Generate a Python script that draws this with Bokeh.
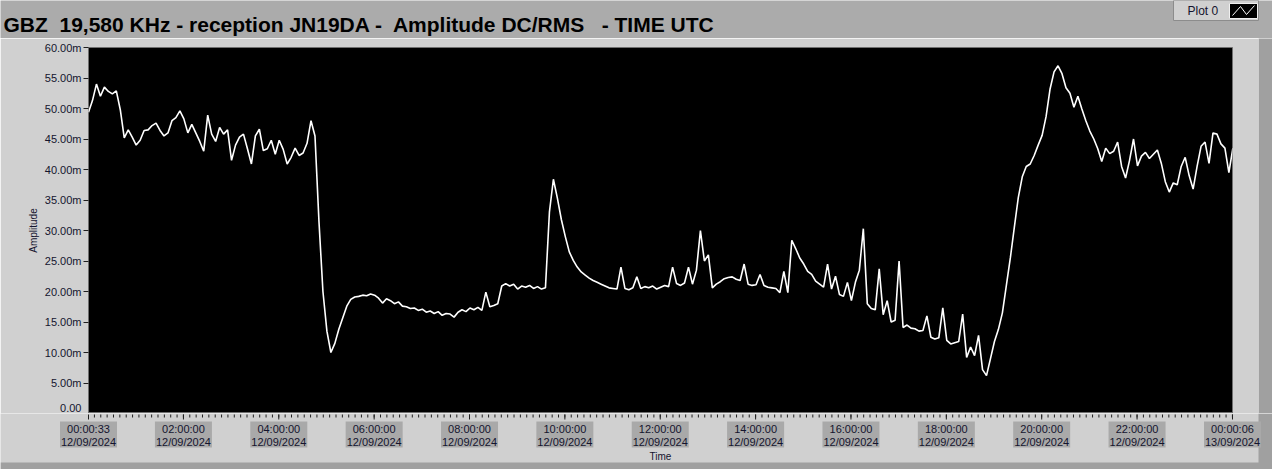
from bokeh.plotting import figure
from bokeh.models import Range1d, FixedTicker, Label
from bokeh.layouts import column, row
from bokeh.embed import file_html
from bokeh.resources import INLINE
from bokeh.core.properties import value

# ---------------- data ----------------
TITLE = "GBZ\u00a0 19,580 KHz - reception JN19DA -\u00a0 Amplitude DC/RMS\u00a0\u00a0 - TIME UTC"
LEGEND_NAME = "Plot 0"
Y_LABEL = "Amplitude"
X_LABEL = "Time"

START_H = 33 / 3600.0        # first sample 00:00:33
END_H = 24 + 6 / 3600.0      # last  sample 00:00:06 next day
STEP_MIN = 5                 # one reading every 5 minutes

# amplitude in milli-units (m)
amplitude_m = [
    49.4, 51.3, 54.0, 52.0, 53.5, 52.8, 52.4, 52.9, 49.8, 45.2,
    46.5, 45.3, 44.0, 44.8, 46.4, 46.5, 47.2, 47.6, 46.4, 45.5,
    46.0, 48.0, 48.5, 49.6, 48.3, 46.0, 47.4, 46.0, 44.6, 43.0,
    48.9, 45.8, 44.6, 46.9, 45.8, 46.5, 41.5, 44.0, 45.3, 45.8,
    43.4, 40.9, 45.5, 46.6, 43.1, 43.4, 44.8, 42.5, 44.8, 43.3,
    40.9, 42.0, 43.5, 42.3, 42.7, 44.3, 48.0, 45.5, 31.5, 20.0,
    13.5, 10.0, 11.5, 13.8, 15.7, 17.6, 18.7, 19.1, 19.2, 19.4,
    19.3, 19.6, 19.4, 18.9, 18.1, 18.8, 18.5, 18.0, 18.3, 17.6,
    17.5, 17.2, 17.3, 16.9, 17.1, 16.6, 16.8, 16.4, 16.7, 16.1,
    16.4, 16.3, 15.8, 16.6, 17.0, 16.7, 17.3, 17.0, 17.4, 16.9,
    19.9, 17.5, 17.7, 18.0, 20.9, 21.3, 20.9, 21.2, 20.4, 20.9,
    20.7, 21.0, 20.5, 20.8, 20.4, 20.6, 33.0, 38.4, 35.3, 31.8,
    29.0, 26.5, 25.1, 24.0, 23.2, 22.7, 22.2, 21.8, 21.5, 21.2,
    20.9, 20.6, 20.5, 20.4, 24.0, 20.5, 20.3, 20.6, 22.4, 20.5,
    20.8, 20.6, 20.9, 20.4, 20.7, 21.0, 20.8, 24.0, 21.3, 21.0,
    21.4, 24.0, 21.2, 23.5, 30.0, 25.0, 26.0, 20.6, 21.2, 21.6,
    22.1, 22.3, 22.4, 22.0, 21.8, 24.5, 21.2, 21.0, 21.1, 22.8,
    21.0, 20.7, 20.6, 20.5, 19.8, 23.3, 19.8, 28.4, 27.0, 25.5,
    24.5, 23.3, 22.8, 21.7, 21.2, 20.7, 24.5, 20.4, 22.5, 19.5,
    19.2, 21.5, 18.5, 21.5, 23.5, 30.3, 18.0, 17.2, 17.0, 23.7,
    16.2, 18.5, 15.0, 15.3, 25.0, 14.1, 14.5, 14.0, 13.9, 13.5,
    13.6, 16.0, 12.5, 12.2, 12.4, 17.3, 12.0, 11.4, 11.6, 11.8,
    16.3, 9.2, 10.9, 9.5, 12.8, 7.2, 6.2, 9.0, 11.8, 13.8,
    16.5, 21.0, 25.5, 30.5, 35.4, 38.8, 40.5, 40.9, 42.3, 44.0,
    45.6, 48.7, 53.2, 56.0, 57.0, 55.7, 53.4, 52.5, 50.2, 52.0,
    49.9, 48.0, 46.3, 45.0, 43.4, 41.3, 43.5, 42.6, 43.0, 44.5,
    40.5, 38.6, 41.5, 45.0, 40.6, 42.2, 42.8, 41.8, 42.5, 43.2,
    41.0, 38.0, 36.3, 37.8, 37.5, 40.5, 42.0, 39.0, 36.8, 40.5,
    43.8, 44.5, 41.0, 46.0, 45.8, 44.2, 43.5, 39.5, 43.5,
]

x_tick_hours = [START_H, 2, 4, 6, 8, 10, 12, 14, 16, 18, 20, 22, END_H]
x_tick_times = ["00:00:33", "02:00:00", "04:00:00", "06:00:00", "08:00:00",
                "10:00:00", "12:00:00", "14:00:00", "16:00:00", "18:00:00",
                "20:00:00", "22:00:00", "00:00:06"]
x_tick_dates = ["12/09/2024"] * 12 + ["13/09/2024"]
y_ticks = [0, 5, 10, 15, 20, 25, 30, 35, 40, 45, 50, 55, 60]
y_tick_labels = ["0.00", "5.00m", "10.00m", "15.00m", "20.00m", "25.00m", "30.00m",
                 "35.00m", "40.00m", "45.00m", "50.00m", "55.00m", "60.00m"]

# ---------------- style / layout ----------------
FONT = "Liberation Sans"
PANEL = "#d0d0d0"
TOP_BG = "#ababab"
TICKBOX = "#a9a9a9"
EDGE = "#a0a0a0"
TXT = "#14142e"

W_TOTAL = 1272
H_TOTAL = 469
H_TITLE = 38
W_MAIN = 1258
FRAME_L, FRAME_R = 88, 1232
FRAME_T, FRAME_B = 47, 413
H_LOWER = H_TOTAL - FRAME_B

times_h = [START_H + i * STEP_MIN / 60.0 for i in range(len(amplitude_m))]
minor_ticks = [i * 2 / 15 for i in range(0, 181) if START_H <= i * 2 / 15 <= END_H]

# ---------------- title strip ----------------
t = figure(width=W_TOTAL, height=H_TITLE, output_backend="svg", toolbar_location=None,
           x_range=Range1d(0, W_TOTAL), y_range=Range1d(H_TITLE, 0),
           x_axis_location=None, y_axis_location=None, min_border=0)
t.frame_align = False
t.grid.visible = False
t.outline_line_color = None
t.background_fill_color = TOP_BG
t.border_fill_color = TOP_BG
t.add_layout(Label(x=3, y=24, text=TITLE, text_font=FONT, text_font_size="21px",
                   text_font_style="bold", text_color="#000000",
                   text_baseline="alphabetic", text_align="left"))
t.quad(left=1173, right=1258, top=0, bottom=20, fill_color=PANEL,
       line_color="#8c8c8c", line_width=1)
t.quad(left=1229, right=1257, top=3, bottom=18, fill_color="#000000",
       line_color="#f0f0f0", line_width=1)
t.line(x=[1232, 1240, 1246, 1254], y=[15, 6, 14, 5], line_color="white", line_width=1)
t.add_layout(Label(x=1187, y=10, text=LEGEND_NAME, text_font=FONT, text_font_size="12px",
                   text_color=TXT, text_baseline="middle", text_align="left"))

# ---------------- main chart ----------------
p = figure(width=W_MAIN, height=FRAME_B - H_TITLE, output_backend="svg", toolbar_location=None,
           x_range=Range1d(START_H, END_H), y_range=Range1d(0, 60),
           x_axis_location=None,
           min_border_left=FRAME_L, min_border_right=W_MAIN - FRAME_R,
           min_border_top=FRAME_T - H_TITLE, min_border_bottom=0)
p.frame_align = False
p.background_fill_color = "#000000"
p.border_fill_color = PANEL
p.outline_line_color = "#707070"
p.grid.visible = False

p.line(x=times_h, y=amplitude_m, line_color="white", line_width=1.6)

p.yaxis.ticker = FixedTicker(ticks=y_ticks)
p.yaxis.major_label_overrides = dict(zip(y_ticks, y_tick_labels))
p.yaxis.major_label_text_font = FONT
p.yaxis.major_label_text_font_size = "11px"
p.yaxis.major_label_text_color = TXT
p.yaxis.major_label_standoff = 2
p.yaxis.major_tick_out = 5
p.yaxis.major_tick_in = 0
p.yaxis.minor_tick_out = 0
p.yaxis.minor_tick_in = 0
p.yaxis.major_tick_line_color = "#202020"
p.yaxis.axis_line_color = None
p.yaxis.axis_label = Y_LABEL
p.yaxis.axis_label_text_font = FONT
p.yaxis.axis_label_text_font_size = "10px"
p.yaxis.axis_label_text_font_style = "normal"
p.yaxis.axis_label_text_color = TXT
p.yaxis.axis_label_standoff = 3

# right-hand frame strip beside the chart
s = figure(width=W_TOTAL - W_MAIN, height=FRAME_B - H_TITLE, output_backend="svg",
           toolbar_location=None, x_axis_location=None, y_axis_location=None, min_border=0,
           x_range=Range1d(0, 1), y_range=Range1d(0, 1))
s.frame_align = False
s.grid.visible = False
s.outline_line_color = None
s.background_fill_color = EDGE
s.border_fill_color = EDGE

# ---------------- time axis strip (ticks + boxed labels), full width ----------------
span = END_H - START_H
hpp = span / (FRAME_R - FRAME_L)        # hours per pixel of the main frame
lo_x0 = START_H - FRAME_L * hpp
lo_x1 = START_H + (W_TOTAL - FRAME_L) * hpp
edge_x = START_H + (W_MAIN - FRAME_L) * hpp
lo = figure(width=W_TOTAL, height=H_LOWER, output_backend="svg", toolbar_location=None,
            x_range=Range1d(lo_x0, lo_x1), y_range=Range1d(H_LOWER, 0),
            x_axis_location=None, y_axis_location=None, min_border=0)
lo.frame_align = False
lo.grid.visible = False
lo.outline_line_color = None
lo.background_fill_color = PANEL
lo.border_fill_color = PANEL

lo.quad(left=[edge_x], right=[lo_x1], top=[0], bottom=[H_LOWER], fill_color=EDGE, line_color=None)
lo.quad(left=[lo_x0], right=[lo_x1], top=[H_LOWER - 7], bottom=[H_LOWER],
        fill_color=EDGE, line_color=None)
lo.segment(x0=minor_ticks, y0=[1] * len(minor_ticks), x1=minor_ticks, y1=[4] * len(minor_ticks),
           line_color="#202020", line_width=1)
lo.segment(x0=x_tick_hours, y0=[1] * len(x_tick_hours), x1=x_tick_hours, y1=[6] * len(x_tick_hours),
           line_color="#202020", line_width=1)
lo.rect(x=x_tick_hours, y=[21] * len(x_tick_hours), width=57, width_units="screen",
        height=26, fill_color=TICKBOX, line_color=None)
lo.text(x=x_tick_hours, y=[15] * len(x_tick_hours), text=x_tick_times,
        text_font=value(FONT), text_font_size="11px", text_color=TXT,
        text_align="center", text_baseline="middle")
lo.text(x=x_tick_hours, y=[28] * len(x_tick_hours), text=x_tick_dates,
        text_font=value(FONT), text_font_size="11px", text_color=TXT,
        text_align="center", text_baseline="middle")
lo.text(x=[(START_H + END_H) / 2], y=[43], text=[X_LABEL],
        text_font=value(FONT), text_font_size="10px", text_color=TXT,
        text_align="center", text_baseline="middle")

layout = column(t, row(p, s, spacing=0), lo, spacing=0)

open("out.html", "w").write(file_html(layout, INLINE))
